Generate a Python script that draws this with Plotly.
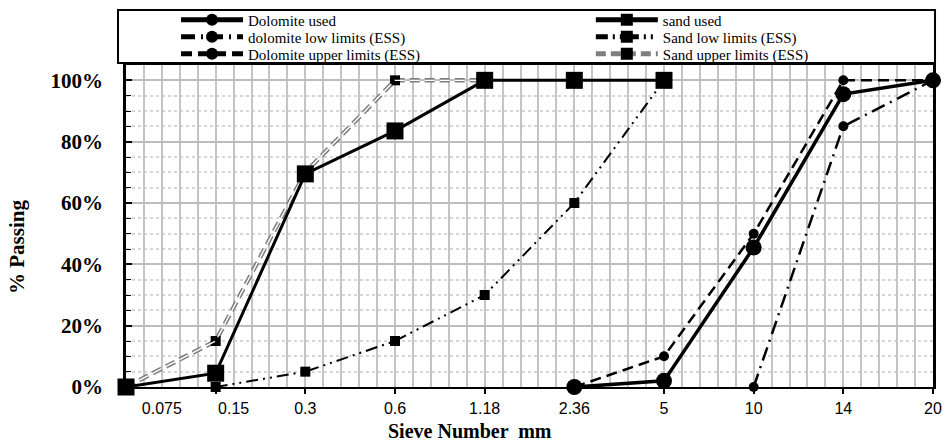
import plotly.graph_objects as go

# ---- data ----
sieve = ["0.075", "0.15", "0.3", "0.6", "1.18", "2.36", "5", "10", "14", "20"]

dolomite_used_sieve = ["2.36", "5", "10", "14", "20"]
dolomite_used = [0, 2, 45.5, 95.5, 100]

sand_used_sieve = ["0.075", "0.15", "0.3", "0.6", "1.18", "2.36", "5"]
sand_used = [0, 4.5, 69.5, 83.5, 100, 100, 100]

dol_low_sieve = ["10", "14", "20"]
dol_low = [0, 85, 100]

sand_low_sieve = ["0.15", "0.3", "0.6", "1.18", "2.36", "5"]
sand_low = [0, 5, 15, 30, 60, 100]

dol_up_sieve = ["2.36", "5", "10", "14", "20"]
dol_up = [0, 10, 50, 100, 100]

sand_up_sieve = ["0.075", "0.15", "0.3", "0.6", "1.18"]
sand_up = [0, 15, 70, 100, 100]

y_ticks = [0, 20, 40, 60, 80, 100]
y_ticktext = [f"{v}%" for v in y_ticks]

pos = {s: i for i, s in enumerate(sieve)}
def xs(lbls):
    return [pos[s] for s in lbls]

# grid every 1/5 of a sieve step; labels: first two sit right of their points
grid_vals = [round(i * 0.2, 1) for i in range(46)]
label_at = {0.4: "0.075", 1.2: "0.15"}
for i, s in enumerate(sieve[2:], start=2):
    label_at[float(i)] = s
grid_text = [label_at.get(v, "") for v in grid_vals]

SERIF = "Liberation Serif"
fig = go.Figure()

fig.add_trace(go.Scatter(
    x=xs(sand_up_sieve), y=sand_up, name="Sand upper limits (ESS)", legend="legend6",
    mode="lines+markers", cliponaxis=False,
    line=dict(color="#7f7f7f", width=4.5, dash="10px,5px"),
    marker=dict(symbol="square", size=10, color="black")))
fig.add_trace(go.Scatter(
    x=xs(sand_up_sieve), y=sand_up, showlegend=False, hoverinfo="skip",
    mode="lines", cliponaxis=False,
    line=dict(color="white", width=1.4, dash="10px,5px")))
fig.add_trace(go.Scatter(
    x=xs(dol_up_sieve), y=dol_up, name="Dolomite upper limits (ESS)", legend="legend5",
    mode="lines+markers", cliponaxis=False,
    line=dict(color="black", width=2.5, dash="11px,6px"),
    marker=dict(symbol="circle", size=10, color="black")))
fig.add_trace(go.Scatter(
    x=xs(sand_low_sieve), y=sand_low, name="Sand low limits (ESS)", legend="legend4",
    mode="lines+markers", cliponaxis=False,
    line=dict(color="black", width=2, dash="12px,5px,2px,5px,2px,5px"),
    marker=dict(symbol="square", size=10, color="black")))
fig.add_trace(go.Scatter(
    x=xs(dol_low_sieve), y=dol_low, name="dolomite low limits (ESS)", legend="legend3",
    mode="lines+markers", cliponaxis=False,
    line=dict(color="black", width=2.5, dash="14px,6px,2px,6px"),
    marker=dict(symbol="circle", size=10, color="black")))
fig.add_trace(go.Scatter(
    x=xs(sand_used_sieve), y=sand_used, name="sand used", legend="legend2",
    mode="lines+markers", cliponaxis=False, xaxis="x2",
    line=dict(color="black", width=3),
    marker=dict(symbol="square", size=17, color="black")))
fig.add_trace(go.Scatter(
    x=xs(dolomite_used_sieve), y=dolomite_used, name="Dolomite used", legend="legend",
    mode="lines+markers", cliponaxis=False, xaxis="x2",
    line=dict(color="black", width=3.5),
    marker=dict(symbol="circle", size=16, color="black")))

def leg(x, y):
    return dict(orientation="v", yanchor="middle", xanchor="left", x=x, y=y,
                bgcolor="rgba(0,0,0,0)", borderwidth=0, itemwidth=62,
                itemsizing="constant", tracegroupgap=0,
                font=dict(family=SERIF, size=15, color="black"))

col1, col2 = 0.062, 0.576
row1, row2, row3 = 1.140, 1.087, 1.034

fig.update_layout(
    width=943, height=441,
    margin=dict(l=126, r=10, t=65, b=54, autoexpand=False),
    paper_bgcolor="white", plot_bgcolor="white",
    showlegend=True,
    legend=leg(col1, row1), legend2=leg(col2, row1),
    legend3=leg(col1, row2), legend4=leg(col2, row2),
    legend5=leg(col1, row3), legend6=leg(col2, row3),
    xaxis=dict(range=[0, 9], tickmode="array", tickvals=grid_vals, ticktext=grid_text,
               showgrid=True, gridcolor="#c4c4c4", gridwidth=2, ticks="",
               ticklabelstandoff=6, zeroline=False, automargin=False,
               tickfont=dict(family="Liberation Sans", size=16, color="black"),
               showline=True, linecolor="black", linewidth=2, mirror=True),
    xaxis2=dict(overlaying="x", anchor="y", side="bottom", range=[0, 9],
                tickmode="array", tickvals=[1, 2, 3, 4, 5, 6, 7, 8, 9],
                ticks="outside", ticklen=6, tickwidth=2, tickcolor="black",
                showticklabels=False, showgrid=False, zeroline=False, showline=False),
    yaxis=dict(range=[0, 105], tickmode="array", tickvals=y_ticks, ticktext=y_ticktext,
               showgrid=True, gridcolor="#bdbdbd", gridwidth=2, zeroline=False,
               ticks="inside", ticklen=6, tickwidth=1.5, tickcolor="black",
               showline=True, linecolor="black", linewidth=2.5, mirror=True,
               ticklabelstandoff=16, automargin=False,
               tickfont=dict(family=SERIF, size=21, color="black", weight="bold"),
               minor=dict(dtick=5, tick0=0, showgrid=True, gridcolor="#d6d6d6",
                          griddash="dot", gridwidth=1.5, ticks="inside", ticklen=5,
                          tickcolor="black", tickwidth=1.2)),
    shapes=[dict(type="rect", xref="paper", yref="paper",
                 x0=-0.0099, x1=1.0025, y0=1.006, y1=1.171,
                 line=dict(color="black", width=2), fillcolor="white", layer="below")],
    annotations=[
        dict(text="Sieve Number  mm", xref="paper", yref="paper", x=0.426, y=-0.1365,
             xanchor="center", yanchor="middle", showarrow=False,
             font=dict(family=SERIF, size=20, color="black", weight="bold")),
        dict(text="% Passing", xref="paper", yref="paper", x=-0.135, y=0.435,
             xanchor="center", yanchor="middle", showarrow=False, textangle=-90,
             font=dict(family=SERIF, size=21, color="black", weight="bold")),
    ],
)

fig.write_html("out.html", config={"displayModeBar": False},
               post_script="document.body.style.margin='0px';")
